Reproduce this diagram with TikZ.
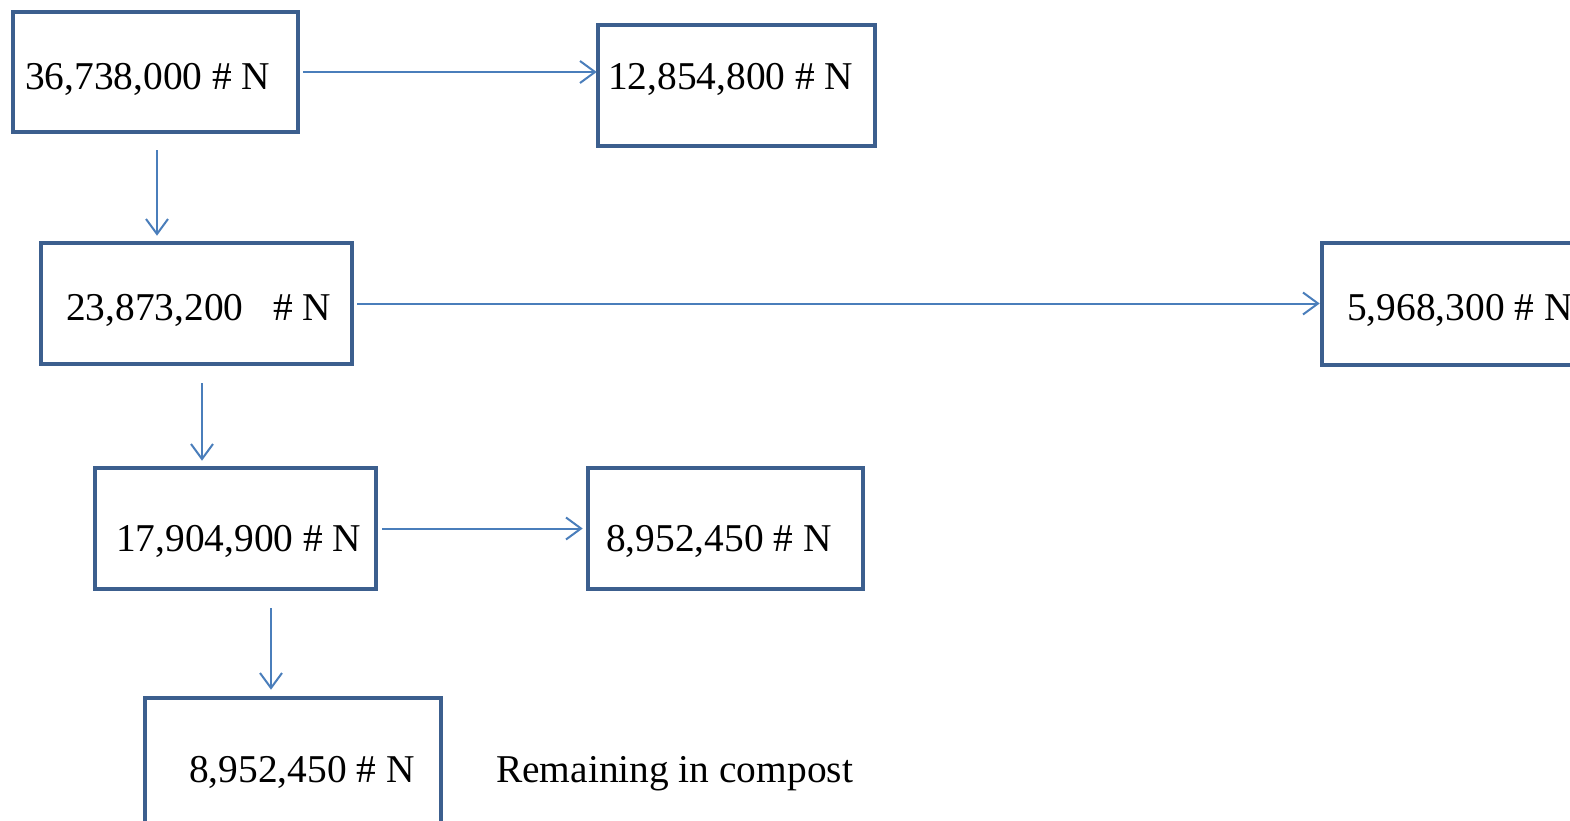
\documentclass[tikz,border=0pt]{standalone}
\usepackage{fontspec}
\setmainfont{Liberation Serif}
\usetikzlibrary{arrows.meta}
\definecolor{boxblue}{HTML}{3C5F8E}
\definecolor{arrblue}{HTML}{4A7EBB}
\tikzset{
  flowbox/.style={draw=boxblue, line width=4.6pt, rectangle, inner sep=0pt},
  lbl/.style={anchor=base west, inner sep=0pt, font=\fontsize{39.4}{47}\selectfont},
  arr/.style={draw=arrblue, line width=2pt, -{Straight Barb[length=15pt,width=22pt,line width=2pt]}}
}
\begin{document}
\begin{tikzpicture}[x=1pt,y=-1pt]
\useasboundingbox (0,0) rectangle (1570,821);
\clip (0,0) rectangle (1570,821);
\fill[white] (0,0) rectangle (1570,821);
% boxes
\node[flowbox, minimum width=285pt, minimum height=120pt] (b1) at (155.5,72) {};
\node[flowbox, minimum width=277pt, minimum height=121pt] (b2) at (736.5,85.5) {};
\node[flowbox, minimum width=311pt, minimum height=121pt] (b3) at (196.5,303.5) {};
\node[flowbox, minimum width=280pt, minimum height=122pt] (b4) at (1462,304) {};
\node[flowbox, minimum width=281pt, minimum height=121pt] (b5) at (235.5,528.5) {};
\node[flowbox, minimum width=275pt, minimum height=121pt] (b6) at (725.5,528.5) {};
\node[flowbox, minimum width=296pt, minimum height=125pt] (b7) at (293,760.5) {};
% labels
\node[lbl] (t1) at (25,90) {36,738,000 \# N};
\node[lbl] (t2) at (608,90) {12,854,800 \# N};
\node[lbl] (t3) at (66,320) {23,873,200\ \ \ \# N};
\node[lbl] (t4) at (1347,320) {5,968,300 \# N};
\node[lbl] (t5) at (116,551) {17,904,900 \# N};
\node[lbl] (t6) at (606,551) {8,952,450 \# N};
\node[lbl] (t7) at (189,782) {8,952,450 \# N};
\node[lbl] (t8) at (496,782) {Remaining in compost};
% arrows
\draw[arr, shorten <=3pt, shorten >=-1pt] (b1.east) -- (b1.east -| b2.west);
\draw[arr, shorten <=16pt, shorten >=5pt] ([xshift=1.5pt]b1.south) -- ([xshift=1.5pt]b1.south |- b3.north);
\draw[arr, shorten <=3pt, shorten >=0pt] (b3.east) -- (b3.east -| b4.west);
\draw[arr, shorten <=17pt, shorten >=5pt] ([xshift=5.5pt]b3.south) -- ([xshift=5.5pt]b3.south |- b5.north);
\draw[arr, shorten <=4pt, shorten >=3pt] (b5.east) -- (b5.east -| b6.west);
\draw[arr, shorten <=17pt, shorten >=6pt] ([xshift=35.5pt]b5.south) -- ([xshift=35.5pt]b5.south |- b7.north);
\end{tikzpicture}
\end{document}
